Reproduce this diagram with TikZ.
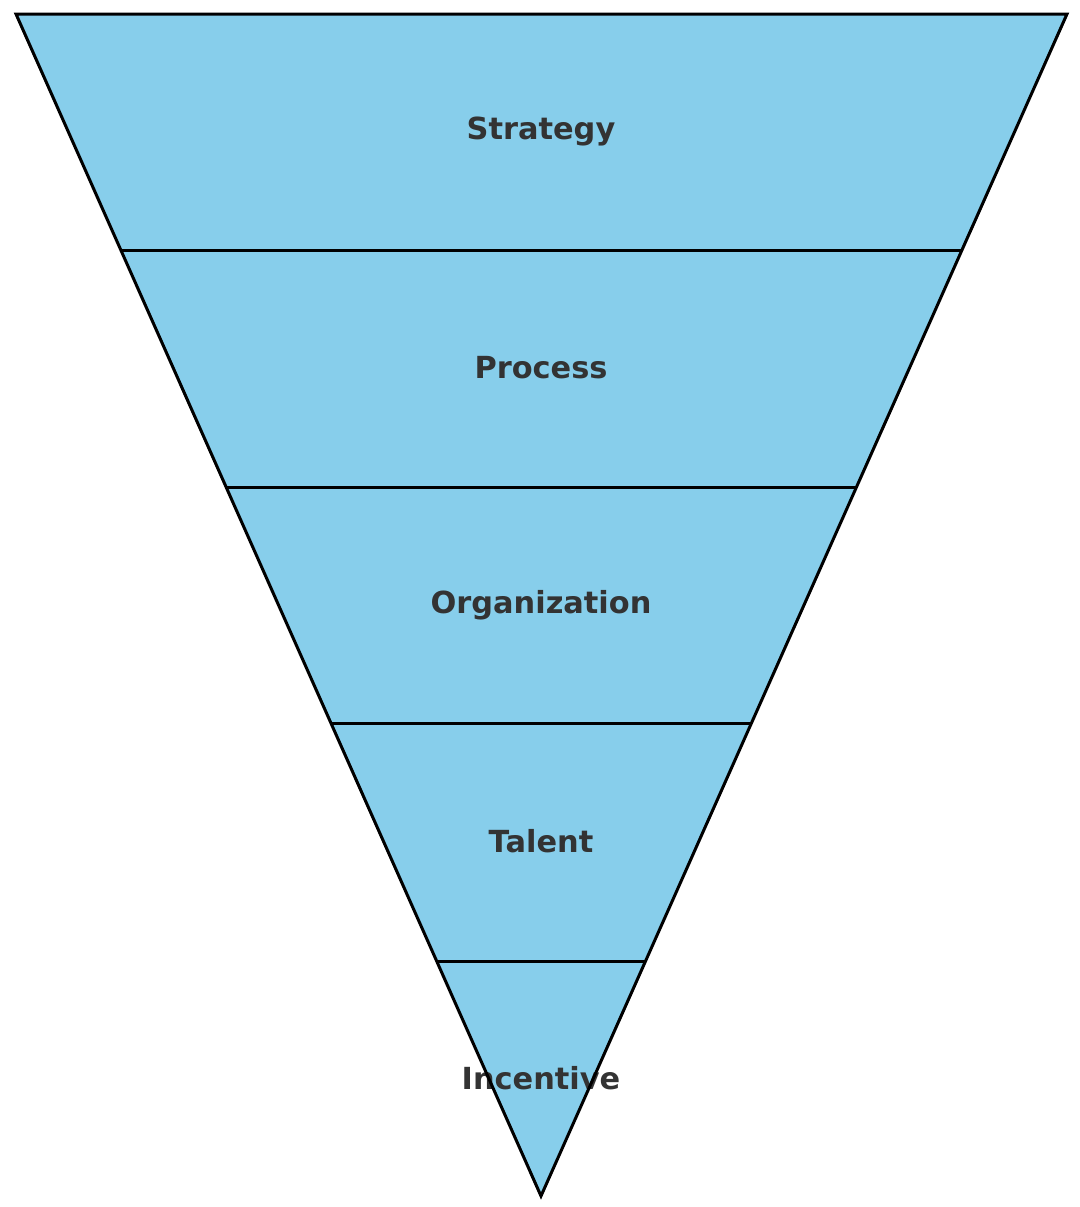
\documentclass[tikz,border=0pt]{standalone}
\usepackage{fontspec}
\setmainfont{DejaVu Sans}
\definecolor{layerblue}{HTML}{87CEEB}
\definecolor{labelgray}{HTML}{333333}

\begin{document}
\begin{tikzpicture}
    [x=0.5pt,y=-0.5pt,every node/.style={font=\bfseries\fontsize{15.2}{18}\selectfont,text=labelgray}]
    \useasboundingbox (0,0) rectangle (1080,1207);
    \coordinate (l0) at (16,14);
    \coordinate (r0) at (1067,14);
    \coordinate (l1) at (121,250);
    \coordinate (r1) at (961.8,250);
    \coordinate (l2) at (226,487);
    \coordinate (r2) at (856.6,487);
    \coordinate (l3) at (331,723);
    \coordinate (r3) at (751.4,723);
    \coordinate (l4) at (436,961);
    \coordinate (r4) at (646.2,961);
    \coordinate (apex) at (541,1196);
    \fill[layerblue] (l0) -- (r0) -- (apex) -- cycle;
    \node (strategy) at (541,131) {Strategy};
    \node (process) at (541,368) {Process};
    \node (organization) at (541,605) {Organization};
    \node (talent) at (541,841) {Talent};
    \node (incentive) at (541,1078) {Incentive};
    \draw[line width=1.5pt] (l0) -- (r0) -- (apex) -- cycle;
    \draw[line width=1.5pt] (l1) -- (r1) ;
    \draw[line width=1.5pt] (l2) -- (r2) ;
    \draw[line width=1.5pt] (l3) -- (r3) ;
    \draw[line width=1.5pt] (l4) -- (r4) ;
  \end{tikzpicture}
\end{document}
